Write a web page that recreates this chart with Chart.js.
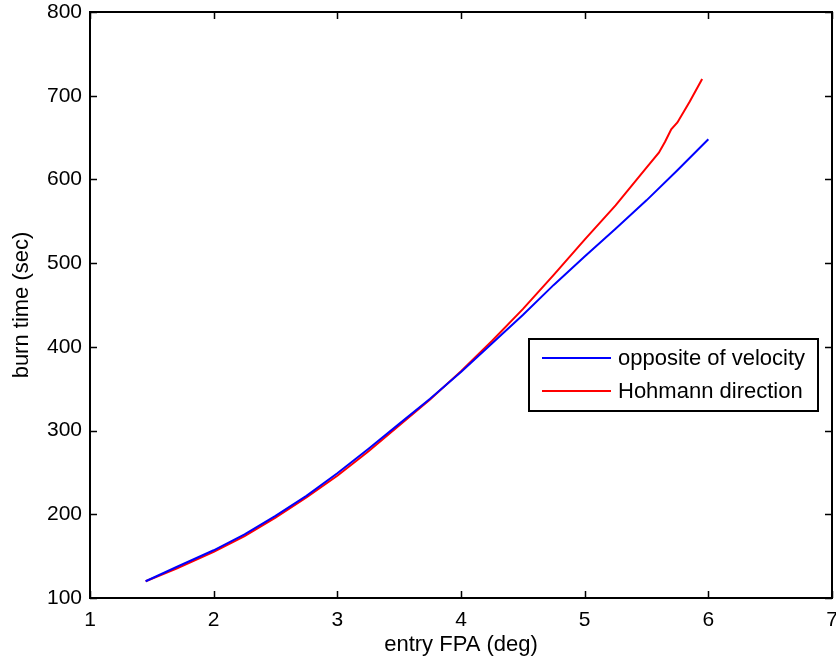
<!DOCTYPE html>
<html>
<head>
<meta charset="utf-8">
<script src="https://cdn.jsdelivr.net/npm/chart.js@4/dist/chart.umd.min.js"></script>
<style>
html,body{margin:0;padding:0;background:#fff;}
canvas{display:block;}
</style>
</head>
<body>
<canvas id="c" width="836" height="664"></canvas>
<script>
// ---- data ----
const seriesNames = ["opposite of velocity", "Hohmann direction"];
const fpaBlue  = [1.45, 1.7, 2.0, 2.25, 2.5, 2.75, 3.0, 3.25, 3.5, 3.75, 4.0, 4.25, 4.5, 4.75, 5.0, 5.25, 5.5, 5.75, 6.0];
const burnBlue = [120, 137, 157, 176, 198, 222, 249, 278, 308, 338, 370, 404, 438, 474, 508, 541, 575, 611, 648];
const fpaRed   = [1.45, 1.7, 2.0, 2.25, 2.5, 2.75, 3.0, 3.25, 3.5, 3.75, 4.0, 4.25, 4.5, 4.75, 5.0, 5.25, 5.5, 5.6, 5.65, 5.7, 5.75, 5.85, 5.95];
const burnRed  = [120, 135, 155, 174, 196, 220, 246, 275, 306, 337, 371, 407, 445, 486, 528, 569, 614, 632, 645, 660, 668, 693, 720];
const xTicks = [1, 2, 3, 4, 5, 6, 7];
const yTicks = [100, 200, 300, 400, 500, 600, 700, 800];
const xTitle = "entry FPA (deg)";
const yTitle = "burn time (sec)";

const FONT = "Liberation Sans, Arial, Helvetica, sans-serif";

const toPts = (xs, ys) => xs.map((x, i) => ({x: x, y: ys[i]}));

const boxTicks = {
  id: 'boxTicks',
  afterDraw(chart) {
    const ctx = chart.ctx, a = chart.chartArea;
    const xs = chart.scales.x, ys = chart.scales.y;
    ctx.save();
    ctx.strokeStyle = '#000';
    ctx.lineWidth = 2;
    ctx.strokeRect(a.left, a.top, a.right - a.left, a.bottom - a.top);
    ctx.lineWidth = 1.5;
    const L = 7;
    ctx.beginPath();
    xTicks.forEach(v => {
      const p = Math.round(xs.getPixelForValue(v)) + 0.5;
      ctx.moveTo(p, a.bottom); ctx.lineTo(p, a.bottom - L);
      ctx.moveTo(p, a.top); ctx.lineTo(p, a.top + L);
    });
    yTicks.forEach(v => {
      const p = Math.round(ys.getPixelForValue(v)) + 0.5;
      ctx.moveTo(a.left, p); ctx.lineTo(a.left + L, p);
      ctx.moveTo(a.right, p); ctx.lineTo(a.right - L, p);
    });
    ctx.stroke();

    // legend box
    const bx = a.right - 303, by = 339, bw = 289, bh = 72;
    ctx.fillStyle = '#fff';
    ctx.fillRect(bx, by, bw, bh);
    ctx.lineWidth = 2;
    ctx.strokeRect(bx, by, bw, bh);
    const rows = [[chart.data.datasets[0], by + 19], [chart.data.datasets[1], by + 52]];
    ctx.font = '22px ' + FONT;
    ctx.textBaseline = 'middle';
    ctx.textAlign = 'left';
    rows.forEach(([ds, y]) => {
      ctx.strokeStyle = ds.borderColor;
      ctx.lineWidth = 2;
      ctx.beginPath();
      ctx.moveTo(bx + 13, y); ctx.lineTo(bx + 82, y);
      ctx.stroke();
      ctx.fillStyle = '#000';
      ctx.fillText(ds.label, bx + 89, y + 1);
    });
    ctx.restore();
  }
};

new Chart(document.getElementById('c'), {
  type: 'line',
  data: {
    datasets: [
      {label: seriesNames[0], data: toPts(fpaBlue, burnBlue), borderColor: '#0000ff', borderWidth: 2, pointRadius: 0, fill: false, tension: 0},
      {label: seriesNames[1], data: toPts(fpaRed, burnRed), borderColor: '#ff0000', borderWidth: 2, pointRadius: 0, fill: false, tension: 0}
    ]
  },
  options: {
    responsive: false,
    animation: false,
    layout: {autoPadding: false, padding: {top: 12, right: 4, left: 0, bottom: 0}},
    plugins: {legend: {display: false}, tooltip: {enabled: false}},
    scales: {
      x: {
        type: 'linear', min: 1, max: 7,
        afterBuildTicks: s => { s.ticks = xTicks.map(v => ({value: v})); },
        afterFit: s => { s.height = 66; s.paddingLeft = 0; s.paddingRight = 0; },
        ticks: {color: '#000', font: {family: FONT, size: 21}, padding: 10, maxRotation: 0},
        grid: {display: false, drawTicks: false},
        border: {display: false},
        title: {display: true, text: xTitle, color: '#000', font: {family: FONT, size: 22}, padding: {top: 0, bottom: 6}}
      },
      y: {
        type: 'linear', min: 100, max: 800,
        afterBuildTicks: s => { s.ticks = yTicks.map(v => ({value: v})); },
        afterFit: s => { s.width = 90; s.paddingTop = 0; s.paddingBottom = 0; },
        ticks: {color: '#000', font: {family: FONT, size: 21}, padding: 8},
        grid: {display: false, drawTicks: false},
        border: {display: false},
        title: {display: true, text: yTitle, color: '#000', font: {family: FONT, size: 22}, padding: {top: 9, bottom: 0}}
      }
    }
  },
  plugins: [boxTicks]
});
</script>
</body>
</html>
